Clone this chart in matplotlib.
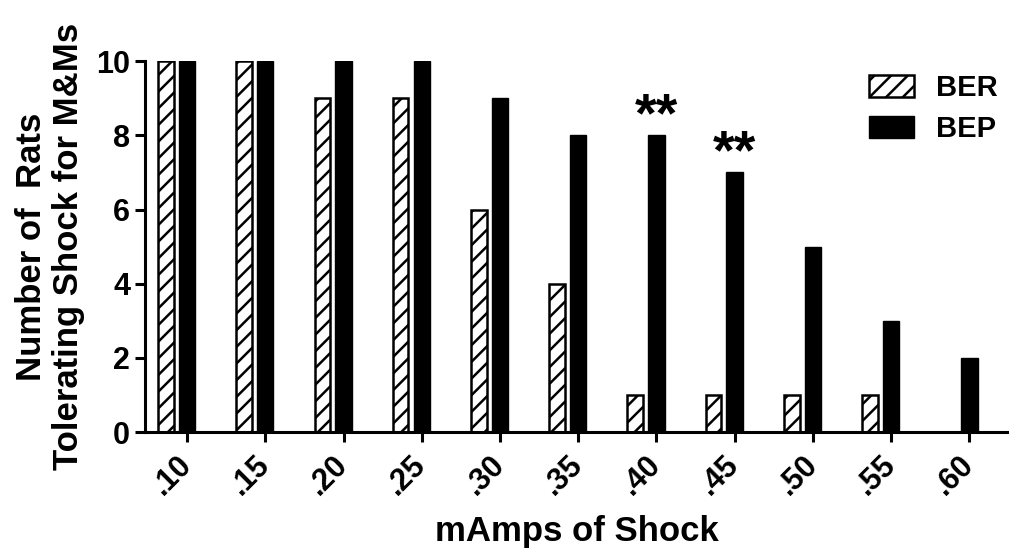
import matplotlib
matplotlib.use("Agg")
import matplotlib.pyplot as plt
import numpy as np

plt.rcParams['font.family'] = ['Liberation Sans', 'DejaVu Sans']
plt.rcParams['font.weight'] = 'bold'
plt.rcParams['hatch.linewidth'] = 1.8

# data
shock = ['.10', '.15', '.20', '.25', '.30', '.35', '.40', '.45', '.50', '.55', '.60']
ber = [10, 10, 9, 9, 6, 4, 1, 1, 1, 1, 0]
bep = [10, 10, 10, 10, 9, 8, 8, 7, 5, 3, 2]
starred = ['.40', '.45']

fig = plt.figure(figsize=(10.09, 5.56), dpi=100)
ax = fig.add_axes([0.1435, 0.223, 0.856, 0.667])

x = np.arange(len(shock))
ax.bar(x - 0.27, ber, width=0.2, color='white', edgecolor='black',
       linewidth=1.8, hatch='//', label='BER')
ax.bar(x, bep, width=0.21, color='black', edgecolor='black',
       linewidth=1.0, label='BEP')

for s in starred:
    i = shock.index(s)
    ax.text(i, bep[i] + 0.1, '**', ha='center', va='baseline',
            fontsize=40, fontweight='bold')

ax.set_xlim(-0.54, 10.5)
ax.set_ylim(0, 10)
ax.set_yticks([0, 2, 4, 6, 8, 10])
ax.set_xticks(x)
ax.set_xticklabels(shock, rotation=45, ha='right', va='center',
                   rotation_mode='anchor')

for side in ['top', 'right']:
    ax.spines[side].set_visible(False)
for side in ['left', 'bottom']:
    ax.spines[side].set_linewidth(2.2)
ax.tick_params(axis='both', width=2.2, length=7.5, labelsize=22)
ax.tick_params(axis='x', pad=13)
ax.tick_params(axis='y', pad=3)

ax.set_xlabel('mAmps of Shock', fontsize=25, fontweight='bold', labelpad=10)
ax.set_ylabel('Number of  Rats\nTolerating Shock for M&Ms', fontsize=25,
              fontweight='bold', labelpad=8, linespacing=1.15)

ax.legend(loc='upper left', bbox_to_anchor=(869 / 1009, 1 - 74 / 556),
          bbox_transform=fig.transFigure, frameon=False, fontsize=21,
          handlelength=1.55, handleheight=0.82, handletextpad=0.75,
          labelspacing=0.45, borderpad=0, borderaxespad=0)

fig.savefig('out.png', dpi=100)
